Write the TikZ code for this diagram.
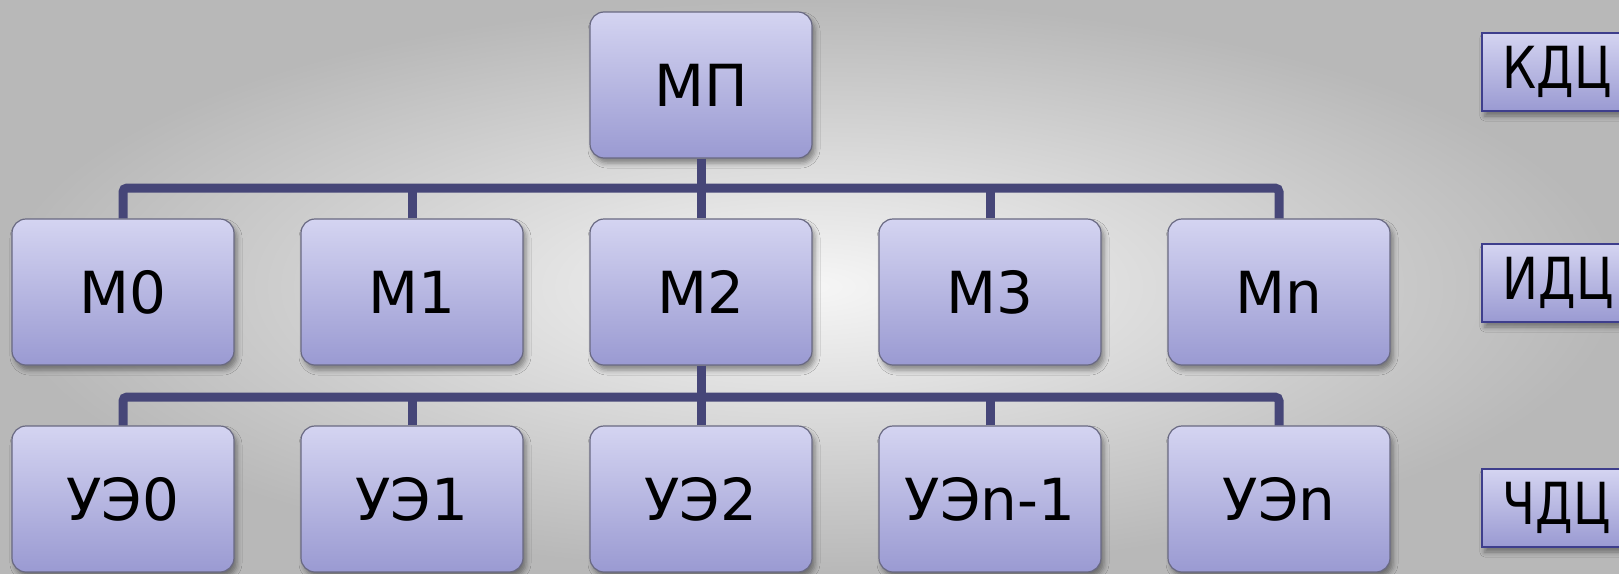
\documentclass[tikz,border=0pt]{standalone}
\usepackage{fontspec}
\setmainfont{DejaVu Sans}
\newfontfamily\condfont[FakeStretch=0.92]{DejaVu Sans Condensed}
\usetikzlibrary{shadows.blur}
\definecolor{boxtop}{RGB}{212,212,241}
\definecolor{boxbot}{RGB}{154,154,210}
\definecolor{boxedge}{RGB}{105,105,130}
\definecolor{busline}{RGB}{70,70,120}
\definecolor{lbledge}{RGB}{62,62,140}
\definecolor{bgin}{RGB}{246,246,246}
\definecolor{bgout}{RGB}{184,184,184}
\tikzset{
  unit/.style={rectangle, rounded corners=14pt, draw=boxedge, line width=1.2pt,
    top color=boxtop, bottom color=boxbot, minimum width=222pt, minimum height=146pt,
    inner sep=0pt, font=\fontsize{58}{60}\selectfont,
    blur shadow={shadow xshift=3pt, shadow yshift=-5pt, shadow blur radius=5pt, shadow opacity=40}},
  level/.style={rectangle, draw=lbledge, line width=1.6pt,
    top color=boxtop, bottom color=boxbot, minimum height=78pt,
    inner xsep=21pt, inner ysep=0pt, anchor=west,
    font=\condfont\fontsize{58}{60}\selectfont,
    blur shadow={shadow xshift=3pt, shadow yshift=-5pt, shadow blur radius=5pt, shadow opacity=40}},
  bus/.style={draw=busline, line width=9pt, rounded corners=4pt}
}
\begin{document}
\begin{tikzpicture}[x=1pt,y=-1pt]
\useasboundingbox (0,0) rectangle (1619,573);
\fill[inner color=bgin, outer color=bgout] (0,0) rectangle (1619,573);

\node[unit] (MP) at (701,85) {МП};
\node[unit] (M0) at (123,292) {M0};
\node[unit] (M1) at (412,292) {M1};
\node[unit] (M2) at (701,292) {M2};
\node[unit] (M3) at (990,292) {M3};
\node[unit] (Mn) at (1279,292) {Mn};
\node[unit] (U0) at (123,499) {УЭ0};
\node[unit] (U1) at (412,499) {УЭ1};
\node[unit] (U2) at (701,499) {УЭ2};
\node[unit] (U3) at (990,499) {УЭn-1};
\node[unit] (Un) at (1279,499) {УЭn};

\node[level] (L1) at (1481,72) {\makebox[130pt][l]{КДЦ}};
\node[level] (L2) at (1481,283) {\makebox[130pt][l]{ИДЦ}};
\node[level] (L3) at (1481,508) {\makebox[130pt][l]{ЧДЦ}};

\coordinate (b1) at (701,188);
\coordinate (b2) at (701,397);

\draw[bus] (M0.north) |- (b1) -| (Mn.north);
\draw[bus] (MP.south) -- (b1);
\draw[bus] (M1.north) -- (M1.north |- b1);
\draw[bus] (M2.north) -- (b1);
\draw[bus] (M3.north) -- (M3.north |- b1);

\draw[bus] (U0.north) |- (b2) -| (Un.north);
\draw[bus] (M2.south) -- (b2);
\draw[bus] (U1.north) -- (U1.north |- b2);
\draw[bus] (U2.north) -- (b2);
\draw[bus] (U3.north) -- (U3.north |- b2);
\end{tikzpicture}
\end{document}
